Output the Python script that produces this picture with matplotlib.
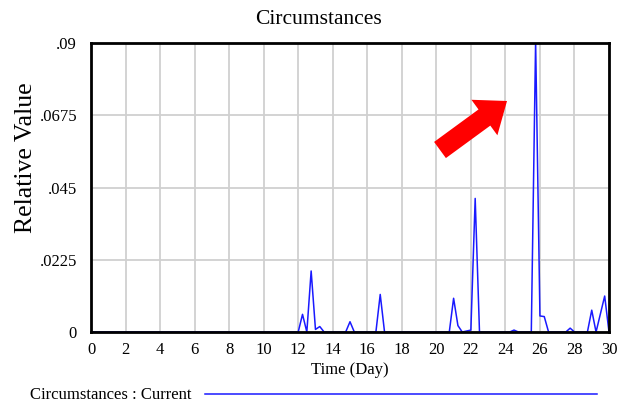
import numpy as np
import matplotlib
matplotlib.use("Agg")
import matplotlib.pyplot as plt
from matplotlib.patches import Polygon
from matplotlib.lines import Line2D
from matplotlib.transforms import IdentityTransform

# data (time in days, relative value)
time_day = [0, 12.0, 12.25, 12.5, 12.75, 13.0, 13.25, 13.5,
            14.75, 15.0, 15.25, 16.5, 16.75, 17.0,
            20.75, 21.0, 21.25, 21.5, 22.0, 22.25, 22.5,
            24.25, 24.5, 24.75, 25.5, 25.75, 26.0, 26.25, 26.5,
            27.5, 27.75, 28.0, 28.75, 29.0, 29.25, 29.75, 30.0]
circumstances = [0, 0, 0.0055, 0, 0.019, 0.0008, 0.0017, 0,
                 0, 0.0032, 0, 0, 0.0117, 0,
                 0, 0.0105, 0.002, 0, 0.0006, 0.0416, 0,
                 0, 0.0006, 0, 0, 0.0905, 0.005, 0.0048, 0,
                 0, 0.0012, 0, 0, 0.0068, 0, 0.0112, 0]
x_ticks = list(range(0, 31, 2))
y_ticks = [0, 0.0225, 0.045, 0.0675, 0.09]
y_tick_labels = ["0", ".0225", ".045", ".0675", ".09"]

plt.rcParams['font.family'] = ['Liberation Serif', 'DejaVu Serif']

W, H = 631, 403
fig = plt.figure(figsize=(W / 100, H / 100), dpi=100)
ax = fig.add_axes([91 / W, 1 - 332 / H, (609 - 91) / W, (332 - 43) / H])

ax.plot(time_day, circumstances, color="#1a1aff", lw=1.1, zorder=3)

ax.set_xlim(0, 30)
ax.set_ylim(0, 0.09)
ax.set_xticks(x_ticks)
ax.set_yticks(y_ticks)
ax.set_yticklabels(y_tick_labels)
ax.tick_params(length=0, labelsize=12)
ax.tick_params(axis="y", pad=10)
ax.tick_params(axis="x", pad=7)
ax.grid(True, color="#d0d0d0", lw=1.3)
ax.set_axisbelow(True)
for s in ax.spines.values():
    s.set_linewidth(2)
    s.set_color("black")
    s.set_zorder(4)

ax.set_xlabel("Time (Day)", fontsize=12, labelpad=3)
fig.text(26 / W, 1 - 158 / H, "Relative Value", fontsize=18.5, rotation=90,
         ha="center", va="center")
fig.text(318 / W, 1 - 19 / H, "Circumstances", fontsize=15.5,
         ha="center", va="center")

# legend at bottom
fig.text(30 / W, 1 - 395 / H, "Circumstances : Current", fontsize=12,
         ha="left", va="center")
fig.add_artist(Line2D([205 / W, 597 / W], [1 - 394 / H, 1 - 394 / H],
                      color="#1a1aff", lw=1.1))

# red arrow drawn in pixel coordinates
tail = np.array([440.0, H - 150.0])
tip = np.array([507.0, H - 101.0])
d = tip - tail
u = d / np.hypot(*d)
n = np.array([-u[1], u[0]])
shaft_w, head_w, head_l = 20.0, 44.0, 28.0
base = tip - u * head_l
pts = [tail + n * shaft_w / 2, base + n * shaft_w / 2, base + n * head_w / 2,
       tip, base - n * head_w / 2, base - n * shaft_w / 2, tail - n * shaft_w / 2]
fig.add_artist(Polygon(pts, closed=True, color="#ff0000", lw=0,
                       transform=IdentityTransform(), zorder=5))

fig.savefig("out.png", dpi=100)
